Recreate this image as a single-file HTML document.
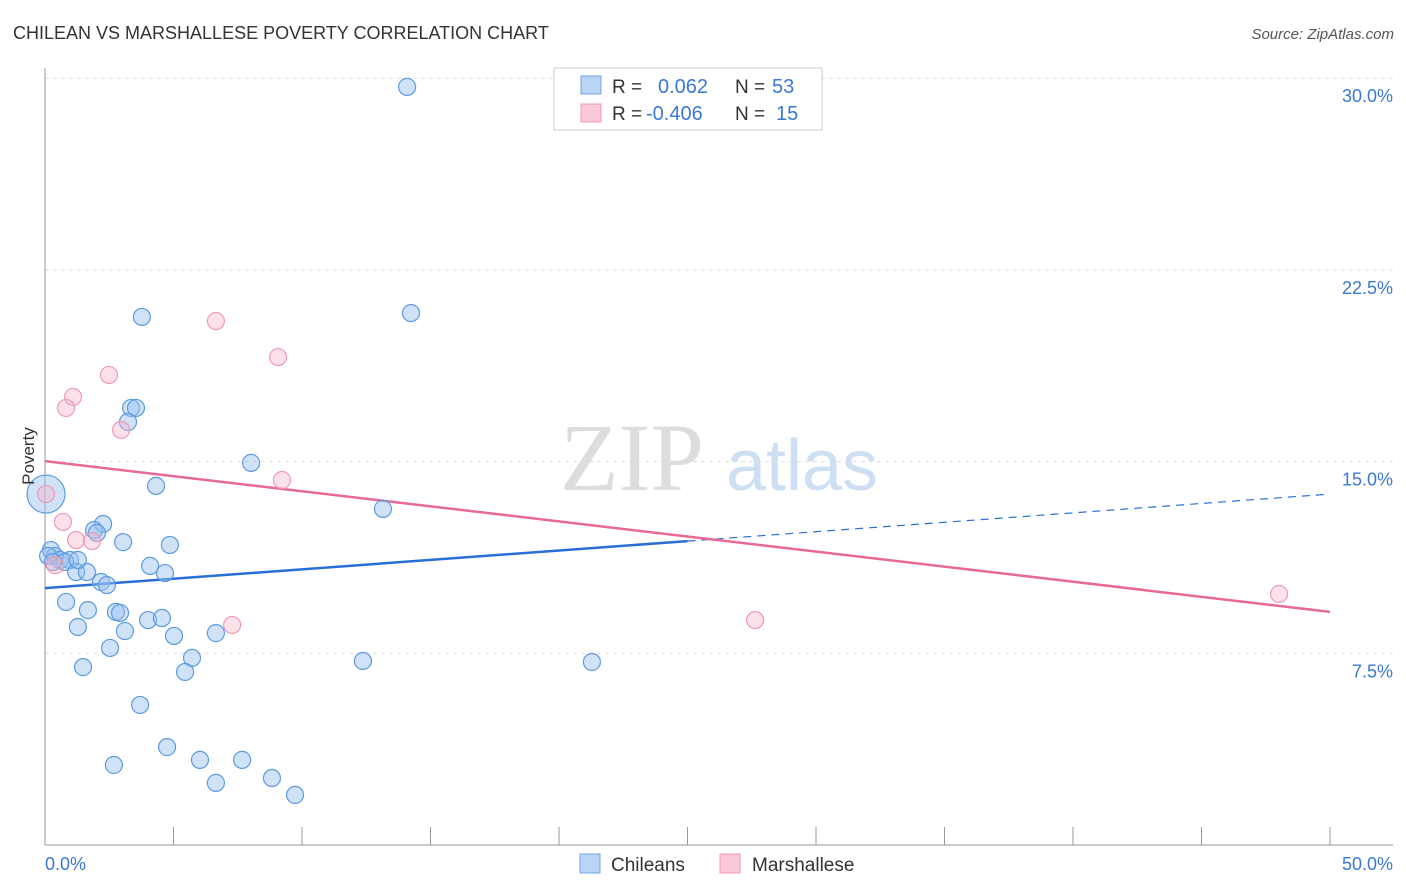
<!DOCTYPE html>
<html><head><meta charset="utf-8"><style>
body{margin:0;background:#fff;font-family:"Liberation Sans",sans-serif;}
svg{display:block}
</style></head><body>
<svg width="1406" height="892" xmlns="http://www.w3.org/2000/svg" id="chart">
<text x="13" y="39" font-size="18" fill="#333">CHILEAN VS MARSHALLESE POVERTY CORRELATION CHART</text>
<text x="1394" y="39" font-size="15" fill="#555" font-style="italic" text-anchor="end">Source: ZipAtlas.com</text>
<g>
<text x="632" y="490" font-size="96" fill="#ddd" font-family="Liberation Serif,serif" text-anchor="middle">ZIP</text>
<text x="802" y="490" font-size="72" fill="#cfdff3" text-anchor="middle">atlas</text>
</g>
<g id="grid"></g>
<g id="axes"></g>
<g id="lines"></g>
<g id="pts"></g>
<text x="34" y="456" font-size="17" fill="#333" transform="rotate(-90 34 456)" text-anchor="middle">Poverty</text>
<g>
<rect x="554" y="68" width="268" height="62" fill="#fff" stroke="#ccc"/>
<rect x="581" y="76" width="20" height="18" fill="#b9d4f5" stroke="#6fa3e3"/>
<rect x="581" y="104" width="20" height="18" fill="#fbc8d8" stroke="#ec9ab5"/>
<text x="612" y="93" font-size="19" fill="#333">R = </text><text x="658" y="93" font-size="20" fill="#3a78d6">0.062</text>
<text x="735" y="93" font-size="19" fill="#333">N = </text><text x="772" y="93" font-size="20" fill="#3a78d6">53</text>
<text x="612" y="120" font-size="19" fill="#333">R = </text><text x="646" y="120" font-size="20" fill="#3a78d6">-0.406</text>
<text x="735" y="120" font-size="19" fill="#333">N = </text><text x="776" y="120" font-size="20" fill="#3a78d6">15</text>
</g>
<g>
<rect x="580" y="854" width="20" height="19" fill="#b9d4f5" stroke="#6fa3e3"/>
<text x="611" y="871" font-size="19" fill="#333">Chileans</text>
<rect x="720" y="854" width="20" height="19" fill="#fbc8d8" stroke="#ec9ab5"/>
<text x="752" y="871" font-size="19" fill="#333">Marshallese</text>
</g>
</svg>
<script>
const yTicks=[7.5,15,22.5,30];
const yTickLabels=["7.5%","15.0%","22.5%","30.0%"];
const xTickLabels=["0.0%","50.0%"];
const blueX=[14.09,3.77,14.24,3.35,3.54,3.23,8.02,4.32,13.15,2.26,1.91,2.02,3.04,4.86,0.23,0.39,0.58,0.97,0.78,4.09,1.21,1.63,4.67,2.18,2.41,0.82,1.67,2.76,2.92,4.01,4.55,1.28,3.11,5.02,6.65,2.53,5.72,12.37,21.28,1.48,5.45,3.70,4.75,6.03,7.67,2.68,8.83,6.65,9.73,0.04,0.12,0.31,1.28];
const blueY=[29.66,20.66,20.81,17.10,17.10,16.55,14.95,14.05,13.15,12.56,12.32,12.21,11.85,11.74,11.54,11.31,11.15,11.15,11.07,10.92,10.68,10.68,10.64,10.29,10.17,9.51,9.19,9.12,9.08,8.80,8.88,8.53,8.37,8.18,8.29,7.71,7.32,7.20,7.16,6.96,6.77,5.48,3.83,3.33,3.33,3.13,2.62,2.43,1.96,13.73,11.31,11.07,11.15];
const pinkX=[0.04,2.49,6.65,9.07,1.09,0.82,2.96,9.22,0.70,1.21,1.83,0.39,7.28,27.63,48.02];
const pinkY=[13.73,18.39,20.50,19.09,17.53,17.10,16.24,14.28,12.64,11.93,11.89,10.95,8.61,8.80,9.82];
const blueTrend=[10.05,13.73];
const pinkTrend=[15.02,9.12];
const NS="http://www.w3.org/2000/svg";
const X=v=>45+v*25.7, Y=v=>845-v*25.56;
function mk(parent,tag,attrs){const e=document.createElementNS(NS,tag);for(const k in attrs)e.setAttribute(k,attrs[k]);document.getElementById(parent).appendChild(e);return e;}
yTicks.forEach((t,i)=>{
 const g=mk('grid','line',{x1:45,x2:1393,y1:Y(t),y2:Y(t),stroke:'#ddd','stroke-dasharray':'4,4'});
 
 
 const l=mk('axes','text',{x:1393,y:Y(t)+24,'font-size':18,fill:'#3a78d6','text-anchor':'end'});
 l.textContent=yTickLabels[i];
 
 
});
const a1=mk('axes','line',{x1:45,x2:45,y1:68,y2:845,stroke:'#999'});


const a2=mk('axes','line',{x1:45,x2:1393,y1:845,y2:845,stroke:'#999'});


for(let i=0;i<=10;i++){const t=mk('axes','line',{x1:X(i*5),x2:X(i*5),y1:827,y2:845,stroke:'#999'});
 
 }
[[0,'start',45],[50,'end',1393]].forEach((d,i)=>{const l=mk('axes','text',{x:d[2],y:870,'font-size':18,fill:'#3a78d6','text-anchor':d[1]});l.textContent=xTickLabels[i];
 
 });
const bAt=x=>blueTrend[0]+(blueTrend[1]-blueTrend[0])*x/50;
let l1=mk('lines','line',{x1:X(0),y1:Y(bAt(0)),x2:X(25),y2:Y(bAt(25)),stroke:'#2a6fd6','stroke-width':2.5});


let l2=mk('lines','line',{x1:X(25),y1:Y(bAt(25)),x2:X(50),y2:Y(bAt(50)),stroke:'#2a6fd6','stroke-width':1.2,'stroke-dasharray':'8,6'});


let l3=mk('lines','line',{x1:X(0),y1:Y(pinkTrend[0]),x2:X(50),y2:Y(pinkTrend[1]),stroke:'#e8689a','stroke-width':2.5});


blueX.forEach((x,i)=>{const big=(i===49);const c=mk('pts','circle',{cx:X(x),cy:Y(blueY[i]),r:big?19:8.5,fill:'rgba(150,190,240,0.45)',stroke:'#5b9be0','stroke-width':1.2});
 
 });
pinkX.forEach((x,i)=>{const c=mk('pts','circle',{cx:X(x),cy:Y(pinkY[i]),r:8.5,fill:'rgba(248,180,200,0.4)',stroke:'#ec9ab5','stroke-width':1.2});
 
 });
</script>
</body></html>
